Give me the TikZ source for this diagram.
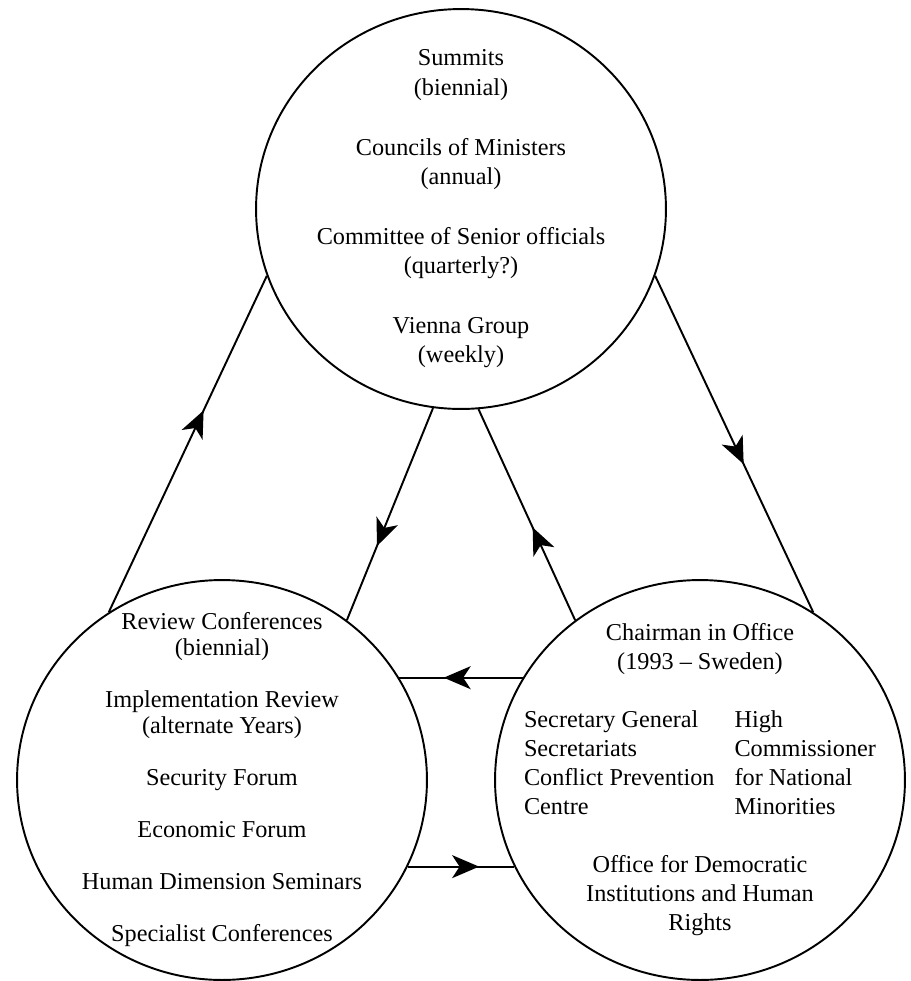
\documentclass[tikz,border=0pt]{standalone}
\usepackage{fontspec}
\setmainfont{Liberation Serif}
\usetikzlibrary{shapes.geometric,arrows.meta,decorations.markings}
\tikzset{
  forum/.style={ellipse, draw=black, line width=1.1pt, minimum width=8.2cm, minimum height=8cm, inner sep=0pt},
  forumtext/.style={align=center, inner sep=0pt, font=\fontsize{13.8}{16.9}\selectfont},
  flow/.style={draw=black, line width=1.1pt, postaction={decorate},
    decoration={markings, mark=at position #1 with {\arrow{Stealth[length=5.4mm,width=4.6mm,inset=1.5mm]}}}},
  flow/.default=0.55,
}

\begin{document}
\begin{tikzpicture}[x=0.02cm,y=-0.02cm]
  \useasboundingbox (0,0) rectangle (910,981);
  % the three bodies
  \node[forum] (summit) at (461,209) {};
  \node[forum] (review) at (222,780) {};
  \node[forum] (office) at (700,780) {};
  \node[forumtext] (summittext) at (summit.center) {Summits\\(biennial)\\[16.9pt]
    Councils of Ministers\\(annual)\\[16.9pt]
    Committee of Senior officials\\(quarterly?)\\[16.9pt]
    Vienna Group\\(weekly)};
  \node[forumtext, font=\fontsize{13.8}{14.8}\selectfont] (reviewtext) at (review.center) {Review Conferences\\(biennial)\\[14.8pt]
    Implementation Review\\(alternate Years)\\[14.8pt]
    Security Forum\\[14.8pt]
    Economic Forum\\[14.8pt]
    Human Dimension Seminars\\[14.8pt]
    Specialist Conferences};
  \node[forumtext, font=\fontsize{13.8}{16.5}\selectfont] (officetext) at (office.center) {%
    \begin{tabular}{@{}l@{\hspace{0.4cm}}l@{}}
    \multicolumn{2}{@{}c@{}}{Chairman in Office}\\
    \multicolumn{2}{@{}c@{}}{(1993 – Sweden)}\\[16.5pt]
    Secretary General & High\\
    Secretariats & Commissioner\\
    Conflict Prevention & for National\\
    Centre & Minorities\\[16.5pt]
    \multicolumn{2}{@{}c@{}}{Office for Democratic}\\
    \multicolumn{2}{@{}c@{}}{Institutions and Human}\\
    \multicolumn{2}{@{}c@{}}{Rights}
    \end{tabular}};
  % connectors
  \draw[flow=0.60] (review.124) -- (summit.199);
  \draw[flow=0.65] (summit.262) -- (review.52);
  \draw[flow=0.44] (office.128) -- (summit.275);
  \draw[flow=0.56] (summit.341) -- (office.56);
  \draw[flow=0.64] (office.150) -- (review.30);
  \draw[flow=0.67] (review.-25) -- (office.205);
\end{tikzpicture}
\end{document}
